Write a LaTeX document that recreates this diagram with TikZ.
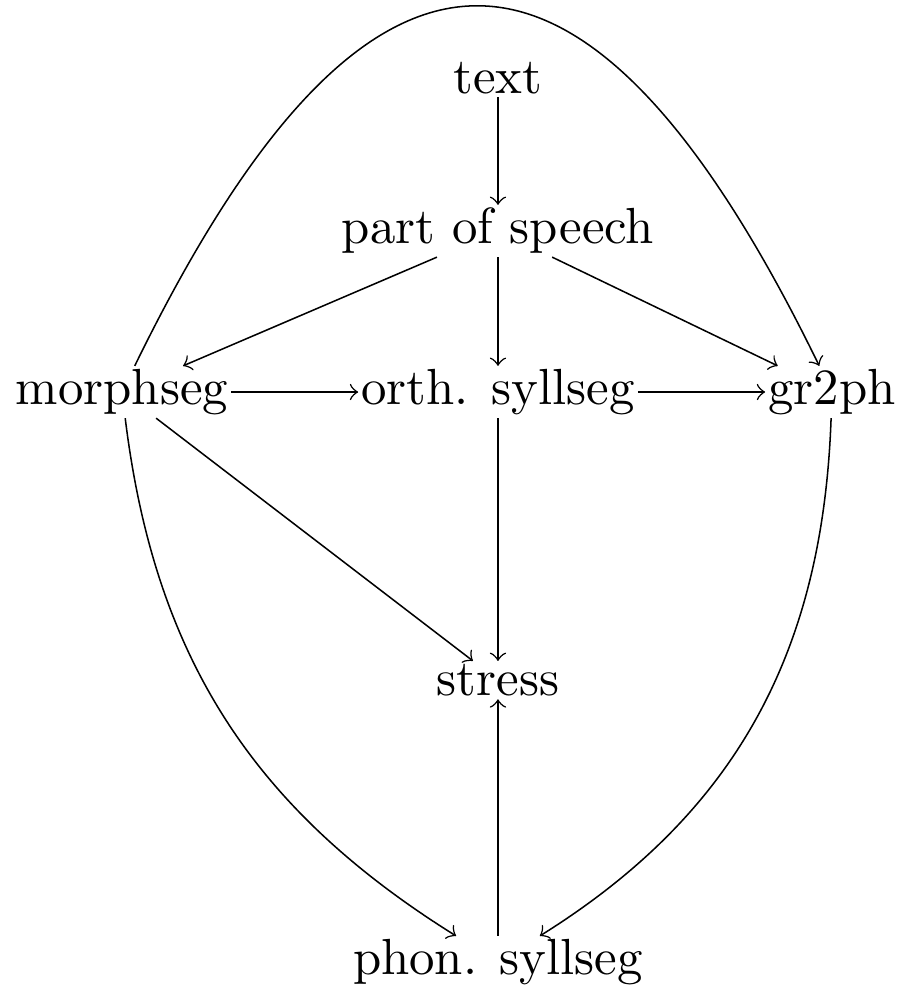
\documentclass[tikz,border=0pt]{standalone}
\usepackage{tikz}
\usetikzlibrary{positioning}

\begin{document}
\begin{tikzpicture}[on grid, auto, >=to, inner sep=0.5pt, line width=0.3pt]
        \useasboundingbox (0,0) rectangle (6.248,-6.842);

        \node (txt) at (3.445,-0.540) {text};
        \node (pos) [below=1.058cm of txt] {part of speech};
        \node (orth) [below=1.114cm of pos] {orth. syllseg};
        \node (morph) [left=2.601cm of orth] {morphseg};
        \node (g2p) [right=2.311cm of orth] {gr2ph};
        \node (stress) [below=1.993cm of orth] {stress};
        \node (phon) [below=1.951cm of stress] {phon. syllseg};

        \draw[->] (txt) -- (pos);
        \draw[->] (pos) -- (morph);
        \draw[->] (pos) -- (orth);
        \draw[->] (pos) -- (g2p);
        \draw[->] (morph) -- (orth);
        \draw[->] (orth) -- (g2p);
        \draw[->] (morph) -- (stress);
        \draw[->] (orth) -- (stress);
        \draw[->] (phon) -- (stress);
        \draw[->] (morph) to[out=64, in=116, looseness=2] (g2p);
        \draw[->] (morph) to[out=-83, in=148] (phon);
        \draw[->] (g2p) to[out=-92, in=32] (phon);
    \end{tikzpicture}
\end{document}
